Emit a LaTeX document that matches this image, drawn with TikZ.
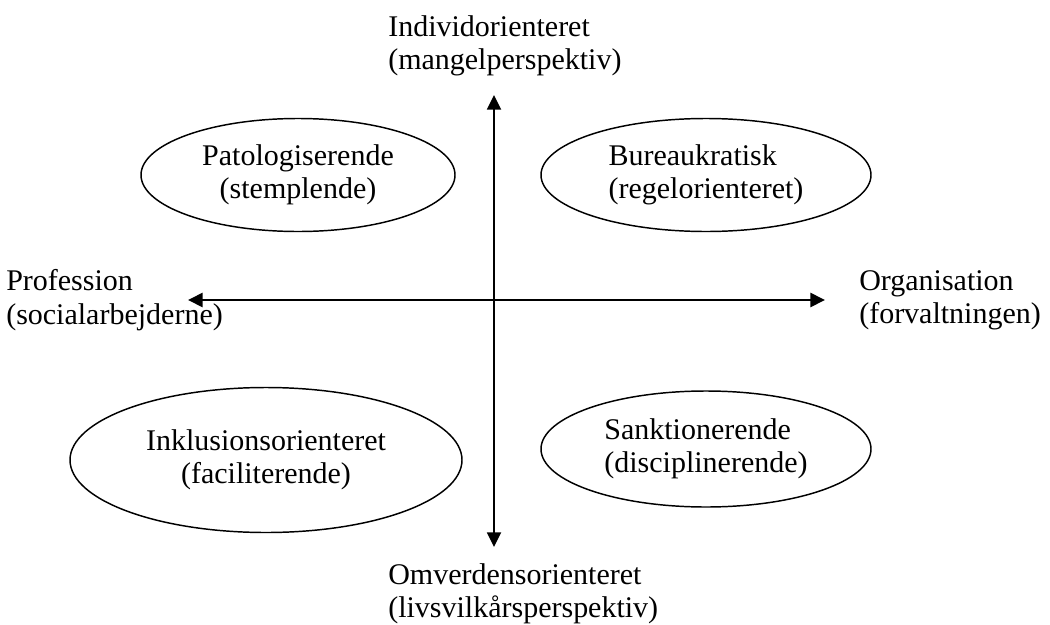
\documentclass[tikz,border=0pt]{standalone}
\usepackage{fontspec}
\setmainfont{Liberation Serif}
\usetikzlibrary{shapes.geometric,arrows.meta}
\begin{document}
\begin{tikzpicture}[x=0.75pt,y=-0.75pt,
  lbl/.style={align=left,anchor=west,inner sep=0pt,font=\fontsize{22.5}{25}\selectfont},
  quad/.style={draw,ellipse,line width=1.1pt,inner sep=0pt,font=\fontsize{22.5}{25}\selectfont},
  axis/.style={line width=1.4pt,-{Triangle[length=11pt,width=10.5pt]}}]
\useasboundingbox (0,0) rectangle (1050,625);
\node[lbl] (top) at (388,46) {Individorienteret\\(mangelperspektiv)};
\node[lbl] (bot) at (388,594) {Omverdensorienteret\\(livsvilkårsperspektiv)};
\node[lbl] (lft) at (6,300) {Profession\\(socialarbejderne)};
\node[lbl] (rgt) at (859,300) {Organisation\\(forvaltningen)};
\coordinate (c) at (494,300);
\coordinate (n) at (494,95);
\coordinate (s) at (494,547);
\coordinate (w) at (188,300);
\coordinate (e) at (825,300);
\draw[axis] (c) -- (n);
\draw[axis] (c) -- (s);
\draw[axis,line width=2pt] (c) -- (w);
\draw[axis,line width=2pt] (c) -- (e);
\node[quad,minimum width=314*0.75pt,minimum height=113*0.75pt,align=center] (tl) at (298,175) {Patologiserende\\(stemplende)};
\node[quad,minimum width=330*0.75pt,minimum height=113*0.75pt,align=left] (tr) at (706,175) {Bureaukratisk\\(regelorienteret)};
\node[quad,minimum width=392*0.75pt,minimum height=145*0.75pt,align=center] (bl) at (266,460) {Inklusionsorienteret\\(faciliterende)};
\node[quad,minimum width=330*0.75pt,minimum height=116*0.75pt,align=left] (br) at (706,449) {Sanktionerende\\(disciplinerende)};
\end{tikzpicture}
\end{document}
